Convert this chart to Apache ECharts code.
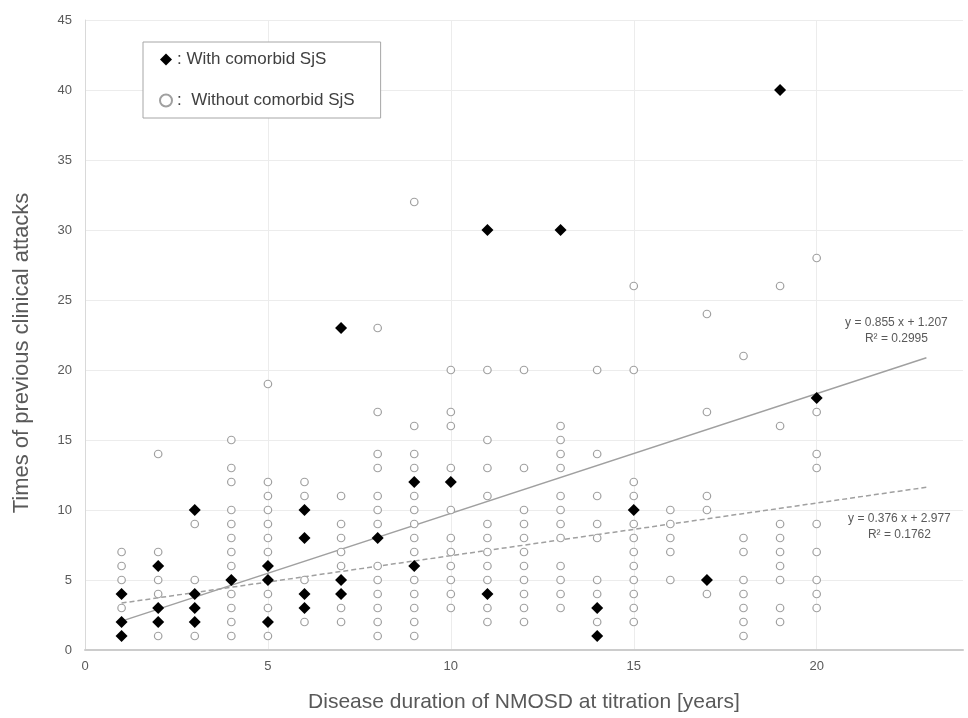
<!DOCTYPE html>
<html>
<head>
<meta charset="utf-8">
<script src="https://cdn.jsdelivr.net/npm/echarts@6.0.0/dist/echarts.min.js"></script>
<style>
  html, body { margin: 0; padding: 0; background: #fff; }
  #chart { width: 968px; height: 718px; }
</style>
</head>
<body>
<div id="chart"></div>
<script>
  'use strict';

  // disease duration (years) for each column of points
  const durations = [1, 2, 3, 4, 5, 6, 7, 8, 9, 10, 11, 12, 13, 14, 15, 16, 17, 18, 19, 20];

  // previous attacks, patients WITH comorbid SjS (one list per duration)
  const sjsAttacks = [
    [4, 2, 1], [6, 3, 2], [10, 4, 3, 2], [5], [6, 5, 2], [10, 8, 4, 3], [23, 5, 4], [8], [12, 6], [12],
    [30, 4], [], [30], [3, 1], [10], [], [5], [], [40], [18]
  ];

  // previous attacks, patients WITHOUT comorbid SjS
  const nonSjsAttacks = [
    [7, 6, 5, 3],
    [14, 7, 5, 4, 1],
    [9, 5, 1],
    [15, 13, 12, 10, 9, 8, 7, 6, 4, 3, 2, 1],
    [19, 12, 11, 10, 9, 8, 7, 4, 3, 1],
    [12, 11, 5, 2],
    [11, 9, 8, 7, 6, 3, 2],
    [23, 17, 14, 13, 11, 10, 9, 6, 5, 4, 3, 2, 1],
    [32, 16, 14, 13, 11, 10, 9, 8, 7, 5, 4, 3, 2, 1],
    [20, 17, 16, 13, 10, 8, 7, 6, 5, 4, 3],
    [20, 15, 13, 11, 9, 8, 7, 6, 5, 3, 2],
    [20, 13, 10, 9, 8, 7, 6, 5, 4, 3, 2],
    [16, 15, 14, 13, 11, 10, 9, 8, 6, 5, 4, 3],
    [20, 14, 11, 9, 8, 5, 4, 2],
    [26, 20, 12, 11, 9, 8, 7, 6, 5, 4, 3, 2],
    [10, 9, 8, 7, 5],
    [24, 17, 11, 10, 4],
    [21, 8, 7, 5, 4, 3, 2, 1],
    [26, 16, 9, 8, 7, 6, 5, 3, 2],
    [28, 17, 14, 13, 9, 7, 5, 4, 3]
  ];

  // linear trendline endpoints (x, y) and their labels
  const trendSolid = [[1, 2.062], [23, 20.872]];
  const trendDashed = [[1, 3.353], [23, 11.625]];
  const trendSolidLabel = ['y = 0.855 x + 1.207', 'R² = 0.2995'];
  const trendDashedLabel = ['y = 0.376 x + 2.977', 'R² = 0.1762'];

  const xTicks = [0, 5, 10, 15, 20];
  const seriesNames = ['With comorbid SjS', 'Without comorbid SjS'];

  const toPoints = lists => lists.flatMap((ys, i) => ys.map(y => [durations[i], y]));
  const font = 'Liberation Sans, Arial, sans-serif';
  const gray = '#595959';

  const trendSeries = (pts, lbl, dashed, labelOpt) => ({
    type: 'line',
    data: pts.map((p, i) => i === pts.length - 1
      ? {value: p, label: Object.assign({show: true, formatter: lbl.join('\n'), color: gray,
          fontSize: 12, fontFamily: font, lineHeight: 16, align: 'center'}, labelOpt)}
      : {value: p}),
    showSymbol: true,
    symbol: 'circle',
    symbolSize: 0,
    silent: true,
    z: 1,
    lineStyle: {color: '#a0a0a0', width: 1.5, type: dashed ? [5, 3] : 'solid'}
  });

  const chart = echarts.init(document.getElementById('chart'), null, {renderer: 'canvas'});
  chart.setOption({
    animation: false,
    backgroundColor: '#fff',
    grid: {left: 85, right: 5, top: 20, bottom: 62, containLabel: false},
    legend: {
      show: true,
      orient: 'vertical',
      left: 143,
      top: 42,
      data: [{name: seriesNames[0], icon: 'diamond'}, {name: seriesNames[1], icon: 'circle'}],
      selectedMode: false,
      formatter: n => n === seriesNames[0] ? ': ' + n : ':  ' + n,
      itemWidth: 12,
      itemHeight: 12,
      itemGap: 24,
      padding: [9, 26, 9, 16],
      borderColor: '#a6a6a6',
      borderWidth: 1,
      backgroundColor: '#fff',
      textStyle: {color: '#404040', fontSize: 17, fontFamily: font}
    },
    xAxis: {
      type: 'value',
      min: 0,
      max: 24,
      interval: 5,
      name: 'Disease duration of NMOSD at titration [years]',
      nameLocation: 'middle',
      nameGap: 42,
      nameTextStyle: {color: gray, fontSize: 21, fontFamily: font},
      axisLine: {show: true, lineStyle: {color: '#cccccc', width: 2}},
      axisTick: {show: false},
      axisLabel: {
        color: gray, fontSize: 13, fontFamily: font, margin: 10,
        formatter: v => xTicks.includes(v) ? String(v) : ''
      },
      splitLine: {show: true, showMaxLine: false, lineStyle: {color: '#ececec', width: 1}}
    },
    yAxis: {
      type: 'value',
      min: 0,
      max: 45,
      interval: 5,
      name: 'Times of previous clinical attacks',
      nameLocation: 'middle',
      nameGap: 52,
      nameTextStyle: {color: gray, fontSize: 22, fontFamily: font, padding: [0, 36, 0, 0]},
      axisLine: {show: true, lineStyle: {color: '#d9d9d9', width: 1}},
      axisTick: {show: false},
      axisLabel: {color: gray, fontSize: 13, fontFamily: font, margin: 13},
      splitLine: {show: true, lineStyle: {color: '#ececec', width: 1}}
    },
    series: [
      trendSeries(trendSolid, trendSolidLabel, false, {position: 'top', offset: [-30, -6]}),
      trendSeries(trendDashed, trendDashedLabel, true, {position: 'bottom', offset: [-27, 18]}),
      {
        name: seriesNames[1],
        type: 'scatter',
        data: toPoints(nonSjsAttacks),
        symbol: 'circle',
        symbolSize: 7.5,
        z: 2,
        itemStyle: {color: '#fff', borderColor: '#a0a0a0', borderWidth: 1.2, opacity: 1}
      },
      {
        name: seriesNames[0],
        type: 'scatter',
        data: toPoints(sjsAttacks),
        symbol: 'diamond',
        symbolSize: 12,
        z: 3,
        itemStyle: {color: '#000', opacity: 1}
      }
    ]
  });
</script>
</body>
</html>
